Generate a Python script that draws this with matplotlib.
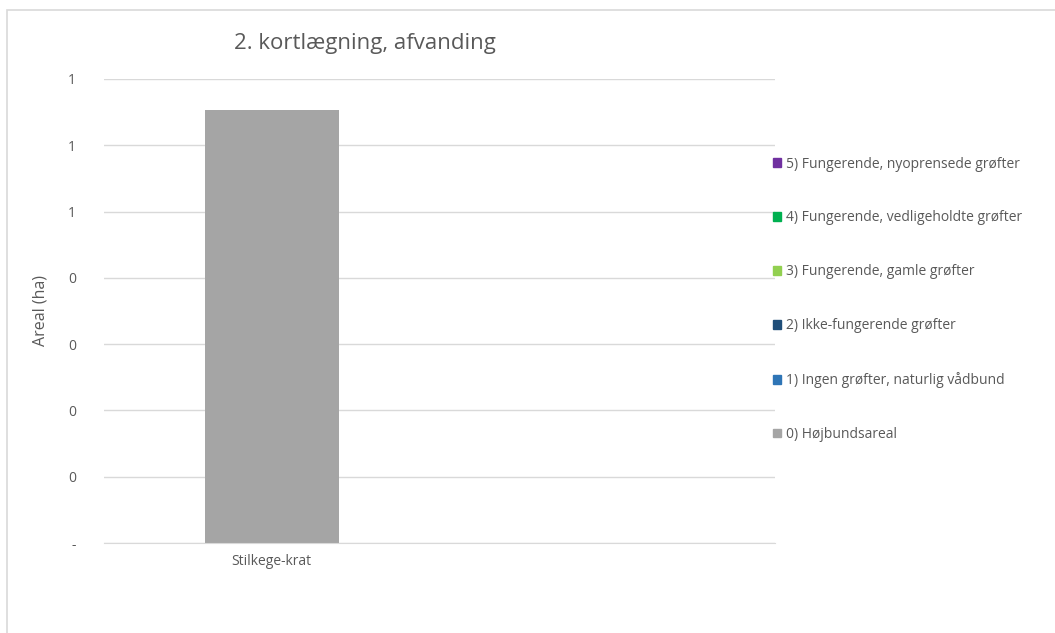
import numpy as np
import matplotlib
matplotlib.use("Agg")
import matplotlib.pyplot as plt
from matplotlib.patches import Rectangle, Patch

plt.rcParams['font.family'] = ['Open Sans', 'DejaVu Sans']

# --- data ---
categories = ["Stilkege-krat", ""]
series = [
    "0) Højbundsareal",
    "1) Ingen grøfter, naturlig vådbund",
    "2) Ikke-fungerende grøfter",
    "3) Fungerende, gamle grøfter",
    "4) Fungerende, vedligeholdte grøfter",
    "5) Fungerende, nyoprensede grøfter",
]
values = [
    [0.653, 0.0],
    [0.0, 0.0],
    [0.0, 0.0],
    [0.0, 0.0],
    [0.0, 0.0],
    [0.0, 0.0],
]
colors = ["#A5A5A5", "#2E75B6", "#1F4E79", "#92D050", "#00B050", "#7030A0"]
yticks = [0, 0.1, 0.2, 0.3, 0.4, 0.5, 0.6, 0.7]
ytick_labels = ["-", "0", "0", "0", "0", "1", "1", "1"]

W, H = 1055, 633
fig = plt.figure(figsize=(W / 100, H / 100), dpi=100)
fig.patches.append(Rectangle((7 / W, -0.1), 1.2, 1 - 10 / H + 0.1,
                             transform=fig.transFigure, fill=False,
                             edgecolor="#D9D9D9", linewidth=1.2))

ax = fig.add_axes([104 / W, 1 - 543 / H, (775 - 104) / W, (543 - 79) / H])
x = np.arange(len(categories))
bottom = np.zeros(len(categories))
for name, vals, c in zip(series, values, colors):
    ax.bar(x, vals, width=0.4, bottom=bottom, color=c, label=name)
    bottom += np.array(vals)

ax.set_xlim(-0.5, len(categories) - 0.5)
ax.set_ylim(0, 0.7)
ax.set_yticks(yticks)
ax.set_yticklabels(ytick_labels)
ax.set_xticks(x)
ax.set_xticklabels(categories)
ax.tick_params(length=0, colors="#595959", labelsize=10)
ax.tick_params(axis="y", pad=20)
ax.tick_params(axis="x", pad=8)
ax.grid(axis="y", color="#D9D9D9", linewidth=1)
ax.set_axisbelow(True)
for s in ["top", "right", "left"]:
    ax.spines[s].set_visible(False)
ax.spines["bottom"].set_color("#D9D9D9")
ax.set_ylabel("Areal (ha)", color="#595959", fontsize=11.5, labelpad=14)

fig.text(365 / W, 1 - 43 / H, "2. kortlægning, afvanding", ha="center",
         va="center", fontsize=16, color="#595959")

handles = [Patch(color=c) for c in colors][::-1]
fig.legend(handles, series[::-1], loc="upper left",
           bbox_to_anchor=(760 / W, 1 - 144 / H), frameon=False,
           fontsize=10, labelcolor="#595959", handlelength=0.6,
           handleheight=0.6, handletextpad=0.35, labelspacing=2.8)

fig.savefig("out.png", dpi=100)
